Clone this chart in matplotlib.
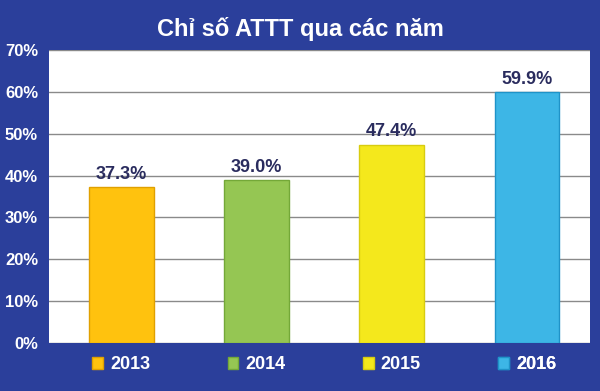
import matplotlib.pyplot as plt
from matplotlib.patches import Patch

plt.rcParams['font.family'] = ['Liberation Sans', 'DejaVu Sans']

years = ['2013', '2014', '2015', '2016']
values = [37.3, 39.0, 47.4, 59.9]
colors = ['#ffc20e', '#95c653', '#f4e81c', '#3db6e6']
edges = ['#e0a000', '#74a838', '#d8cc10', '#1f93c8']
bg = '#2b3f9b'

fig = plt.figure(figsize=(6, 3.91), dpi=100, facecolor=bg)
ax = fig.add_axes([0.082, 0.123, 0.901, 0.749])
ax.set_facecolor('white')

x = range(len(years))
ax.bar(x, values, width=0.48, color=colors, edgecolor=edges, linewidth=1, zorder=3)
for i, v in enumerate(values):
    ax.text(i, v + 1.0, f'{v:.1f}%', ha='center', va='bottom', fontsize=13,
            fontweight='bold', color='#2a2c5e', zorder=4)

ax.set_xlim(-0.535, 3.465)
ax.set_ylim(0, 70)
ax.set_yticks(range(0, 71, 10))
ax.set_yticklabels([f'{t}%' for t in range(0, 71, 10)], fontsize=12,
                   fontweight='bold', color='white')
ax.set_xticks([])
ax.tick_params(axis='y', length=0, pad=8)
ax.yaxis.grid(True, color='#8a8a8a', linewidth=1, zorder=0)
for s in ax.spines.values():
    s.set_visible(False)

fig.text(0.5, 0.927, 'Chỉ số ATTT qua các năm', ha='center', va='center',
         fontsize=17, fontweight='bold', color='white')

# one legend entry under each bar
for i, (yr, c, e) in enumerate(zip(years, colors, edges)):
    leg = ax.legend([Patch(facecolor=c, edgecolor=e)], [yr], loc='center',
                    bbox_to_anchor=((i + 0.535) / 4, -0.075), frameon=False,
                    fontsize=13, handlelength=0.6, handleheight=0.6,
                    handletextpad=0.4, borderpad=0)
    for t in leg.get_texts():
        t.set_color('white')
        t.set_fontweight('bold')
    ax.add_artist(leg)

fig.savefig('out.png', dpi=100, facecolor=bg)
